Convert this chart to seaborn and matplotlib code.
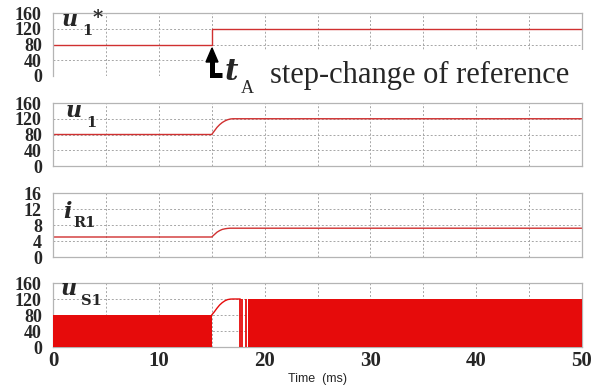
import matplotlib
matplotlib.use("Agg")
import matplotlib.pyplot as plt
import seaborn as sns
import pandas as pd
from matplotlib.patches import Rectangle
from matplotlib.lines import Line2D

# ---------------- data ----------------
t_ref = [0, 15, 15, 50]
u1_ref = [80, 80, 120, 120]

t_resp = [0, 15, 15.25, 15.5, 15.75, 16, 16.25, 16.5, 16.75, 17, 50]
u1_resp = [80, 80, 89, 98, 105, 110.5, 114.5, 117.5, 119.3, 120, 120]

t_cur = [0, 15, 15.25, 15.5, 15.75, 16, 16.25, 16.5, 16.75, 50]
i_r1 = [5, 5, 5.6, 6.2, 6.6, 6.9, 7.05, 7.15, 7.2, 7.2]

env_t = [15, 15.25, 15.5, 15.75, 16, 16.25, 16.5, 16.75, 17, 17.7]
env_v = [80, 88, 97, 105, 111, 115.5, 118.5, 119.7, 120, 120]

block_start = [0, 18.46]
block_end = [15, 50]
block_level = [80, 120]

pulse_t = [17.70, 17.86, 18.21]
pulse_level = [120, 120, 120]

u_ticks = [0, 40, 80, 120, 160]
i_ticks = [0, 4, 8, 12, 16]
x_ticks = [0, 10, 20, 30, 40, 50]

# ---------------- style ----------------
sns.set_style("white")
plt.rcParams["font.family"] = ["Liberation Serif", "DejaVu Serif"]

W, H = 608, 392
fig = plt.figure(figsize=(W / 100, H / 100), dpi=100)

L, R = 53, 582
panels = [(13, 76), (103, 166), (193, 257), (283, 347)]
axes = []
for top, bot in panels:
    ax = fig.add_axes([L / W, 1 - bot / H, (R - L) / W, (bot - top) / H])
    axes.append(ax)

line_col = "#d03030"
fill_col = "#e60b0b"
grid_col = "#a6a6a6"
spine_col = "#b4b4b4"

def style(ax, yticks, show_x):
    ax.set_xlim(0, 50)
    ax.set_ylim(yticks[0], yticks[-1])
    ax.set_xticks(range(0, 51, 5))
    ax.set_yticks(yticks)
    ax.set_yticklabels([str(v) for v in yticks], fontsize=13, fontweight="bold")
    if show_x:
        ax.set_xticklabels([str(v) if v in x_ticks else "" for v in range(0, 51, 5)],
                           fontsize=15, fontweight="bold")
    else:
        ax.set_xticklabels([])
    ax.tick_params(length=0, pad=8, axis="y")
    ax.tick_params(length=0, pad=3, axis="x")
    ax.grid(True, color=grid_col, linestyle=(0, (2, 2)), linewidth=0.7)
    ax.set_axisbelow(True)
    for s in ax.spines.values():
        s.set_color(spine_col)
        s.set_linewidth(0.9)
    ax.set_xlabel("")
    ax.set_ylabel("")

# panel 1
df1 = pd.DataFrame({"t": t_ref, "v": u1_ref})
sns.lineplot(data=df1, x="t", y="v", ax=axes[0], color=line_col, lw=1.0,
             sort=False, estimator=None)
style(axes[0], u_ticks, False)
axes[0].spines["bottom"].set_visible(False)

# panel 2
df2 = pd.DataFrame({"t": t_resp, "v": u1_resp})
sns.lineplot(data=df2, x="t", y="v", ax=axes[1], color=line_col, lw=1.0,
             sort=False, estimator=None)
style(axes[1], u_ticks, False)

# panel 3
df3 = pd.DataFrame({"t": t_cur, "v": i_r1})
sns.lineplot(data=df3, x="t", y="v", ax=axes[2], color=line_col, lw=1.0,
             sort=False, estimator=None)
style(axes[2], i_ticks, False)

# panel 4
ax4 = axes[3]
for s0, s1, lv in zip(block_start, block_end, block_level):
    ax4.fill_between([s0, s1], 0, lv, color=fill_col, linewidth=0, zorder=3)
df4 = pd.DataFrame({"t": env_t, "v": env_v})
sns.lineplot(data=df4, x="t", y="v", ax=ax4, color=fill_col, lw=1.0,
             sort=False, estimator=None, zorder=3)
ax4.vlines(pulse_t, 0, pulse_level, color=fill_col, lw=1.3, zorder=3)
style(ax4, u_ticks, True)

fig.text(317 / W, 1 - 379 / H, "Time  (ms)", family="Liberation Sans",
         fontsize=9, ha="center", va="center")

# panel labels
def px(x, y):
    return x / W, 1 - y / H

def label(x, y, main, sub, sx, sy, star=False):
    fig.text(*px(x, y), main, family="DejaVu Serif", fontstyle="italic",
             fontweight="bold", fontsize=16, va="baseline", ha="left", zorder=10)
    fig.text(*px(sx, sy), sub, family="DejaVu Serif", fontweight="bold",
             fontsize=10.5, va="baseline", ha="left", zorder=10)
    if star:
        fig.text(*px(sx + 11, sy - 12), "*", family="DejaVu Serif", fontweight="bold",
                 fontsize=14, va="baseline", ha="left", zorder=10)

label(62, 26, "u", "1", 82, 35, star=True)
label(66, 117, "u", "1", 86, 127)
label(63, 218, "i", "R1", 73, 227)
label(61, 295, "u", "S1", 81, 305)

# annotation covering box
fig.patches.append(Rectangle(px(205, 92), (W - 205) / W, 42 / H, transform=fig.transFigure,
                             facecolor="white", edgecolor="none", zorder=5))
fig.lines.append(Line2D([212 / W, 212 / W, 222 / W], [1 - 58 / H, 1 - 75 / H, 1 - 75 / H],
                        transform=fig.transFigure, color="black", lw=3.6,
                        solid_capstyle="butt", solid_joinstyle="miter", zorder=6))
fig.patches.append(plt.Polygon([px(212, 48), px(206, 62), px(218, 62)], closed=True,
                               transform=fig.transFigure, facecolor="black",
                               edgecolor="black", zorder=6))
fig.text(*px(225, 80), "t", family="DejaVu Serif", fontstyle="italic",
         fontweight="bold", fontsize=21, va="baseline", ha="left", zorder=10)
fig.text(*px(241, 93), "A", family="Liberation Serif", fontsize=13,
         va="baseline", ha="left", zorder=10)
fig.text(*px(270, 83), "step-change of reference", fontsize=22, va="baseline",
         ha="left", zorder=10)

fig.savefig("out.png", dpi=100)
